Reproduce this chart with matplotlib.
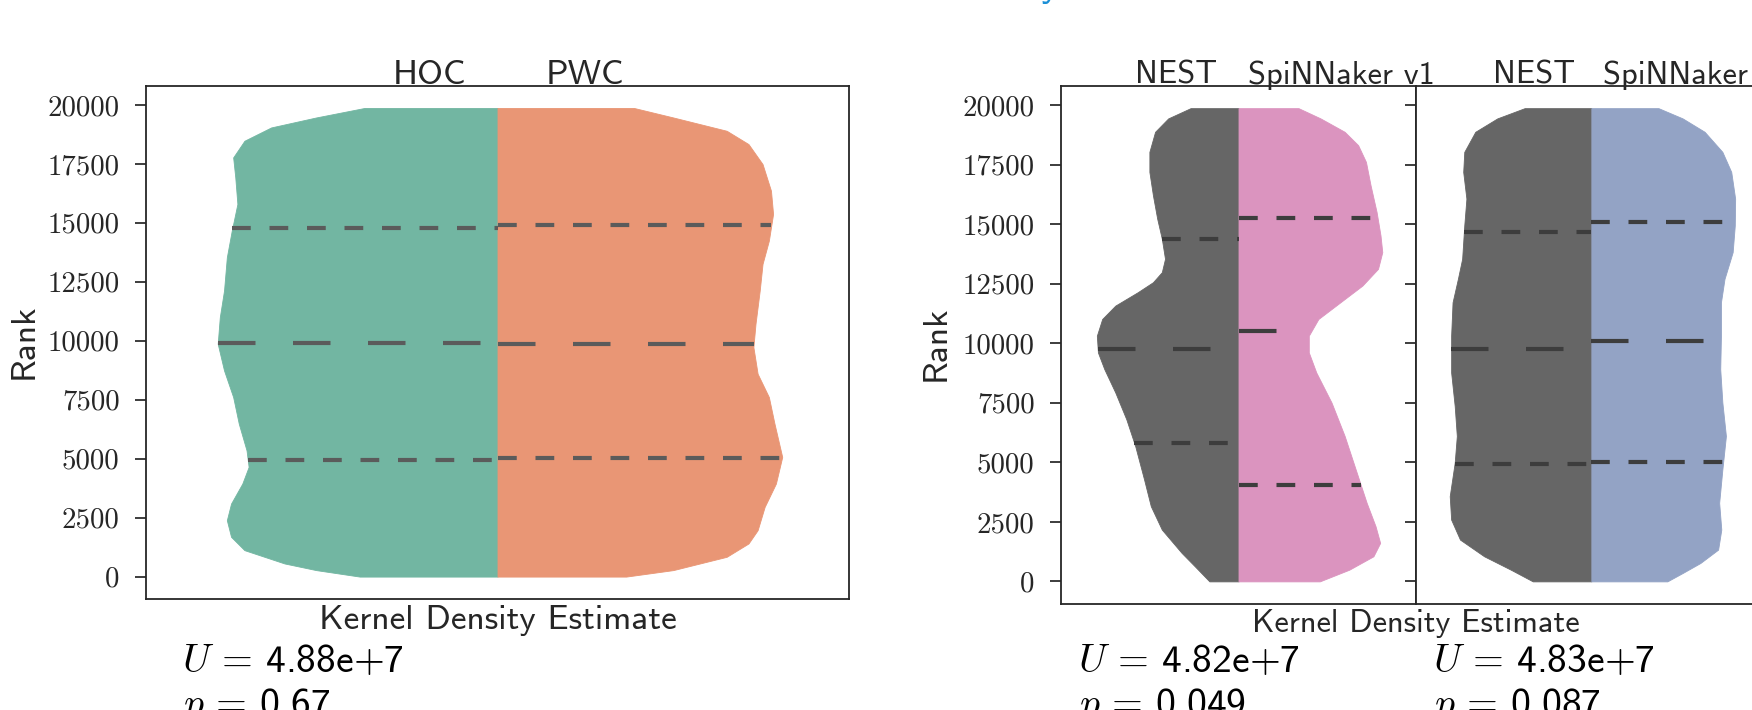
import numpy as np
import matplotlib.pyplot as plt

plt.rcParams['mathtext.fontset'] = 'cm'
plt.rcParams['font.family'] = 'cmss10'
plt.rcParams['axes.unicode_minus'] = False
plt.rcParams['axes.formatter.use_mathtext'] = True

INK = '#262626'
SERIF = 'cmr10'

# --- Violin-Profile (Rang, halbe Breite) ---
hoc_rank = [0, 275, 557, 1121, 1686, 2391, 3097, 3944, 4650, 5355, 6484, 7613, 8742,
            9871, 11000, 12129, 13540, 14669, 15798, 16927, 17773, 18479, 19043,
            19466, 19870]
hoc_width = [0.196, 0.258, 0.303, 0.360, 0.379, 0.385, 0.379, 0.363, 0.354, 0.357,
             0.368, 0.376, 0.389, 0.398, 0.395, 0.389, 0.385, 0.378, 0.370, 0.373,
             0.376, 0.360, 0.322, 0.258, 0.189]

pwc_rank = [0, 275, 839, 1404, 1968, 2956, 3944, 5073, 6484, 7613, 8601, 9730,
            10718, 12129, 13258, 14245, 15374, 16362, 17491, 18338, 18902, 19466, 19870]
pwc_width = [0.183, 0.250, 0.326, 0.357, 0.370, 0.380, 0.396, 0.405, 0.394, 0.386,
             0.370, 0.364, 0.367, 0.373, 0.377, 0.386, 0.392, 0.389, 0.377, 0.357,
             0.326, 0.250, 0.194]

nest1_rank = [0, 632, 1193, 2175, 3158, 4281, 5684, 6807, 7930, 8912, 9614, 10316,
              11017, 11579, 12140, 12561, 12982, 13544, 14386, 15228, 16210, 17193,
              18035, 18877, 19440, 19870]
nest1_width = [0.082, 0.123, 0.160, 0.216, 0.247, 0.266, 0.291, 0.316, 0.347, 0.378,
               0.396, 0.399, 0.384, 0.347, 0.284, 0.241, 0.216, 0.207, 0.216, 0.229,
               0.241, 0.251, 0.251, 0.235, 0.198, 0.135]

spin1_rank = [0, 491, 1053, 1614, 2316, 3298, 4702, 6105, 7509, 8772, 9614, 10316,
              11017, 11719, 12421, 13123, 13824, 14526, 15509, 16632, 17614, 18316,
              18877, 19440, 19870]
spin1_width = [0.229, 0.312, 0.380, 0.399, 0.386, 0.361, 0.330, 0.299, 0.262, 0.219,
               0.198, 0.198, 0.225, 0.287, 0.349, 0.393, 0.405, 0.400, 0.389, 0.372,
               0.359, 0.337, 0.299, 0.231, 0.169]

nest2_rank = [0, 491, 1053, 1754, 2596, 3579, 4982, 6105, 7368, 8772, 10316, 11719,
              12702, 13544, 14947, 16070, 17193, 18035, 18877, 19440, 19870]
nest2_width = [0.165, 0.227, 0.302, 0.370, 0.395, 0.399, 0.385, 0.379, 0.385, 0.395,
               0.395, 0.391, 0.376, 0.364, 0.358, 0.352, 0.361, 0.358, 0.327, 0.265,
               0.188]

spin2_rank = [0, 351, 772, 1333, 2175, 3298, 4702, 6105, 7509, 8912, 10316, 11719,
              12702, 13824, 14947, 16070, 17193, 18035, 18877, 19440, 19870]
spin2_width = [0.214, 0.257, 0.307, 0.357, 0.366, 0.360, 0.369, 0.379, 0.369, 0.363,
               0.365, 0.365, 0.375, 0.398, 0.404, 0.405, 0.394, 0.369, 0.319, 0.257,
               0.189]

# Quartile (25 %, Median, 75 %)
hoc_q = [4931, 9913, 14780]
pwc_q = [5016, 9841, 14890]
nest1_q = [5820, 9745, 14390]
spin1_q = [4063, 10505, 15250]
nest2_q = [4934, 9745, 14665]
spin2_q = [4993, 10110, 15070]

yticks = list(range(0, 20001, 2500))


def px(x0, y0, w, h):
    return [x0 / 1752, 1 - (y0 + h) / 710, w / 1752, h / 710]


def half(ax, ranks, widths, quart, color, side, gray):
    r = np.asarray(ranks, float)
    w = np.asarray(widths, float)
    if side == 'left':
        ax.fill_betweenx(r, -w, 0, color=color, lw=0.6, edgecolor=color)
    else:
        ax.fill_betweenx(r, 0, w, color=color, lw=0.6, edgecolor=color)
    for q, d in zip(quart, [(4.5, 4.5), (9, 9), (4.5, 4.5)]):
        dens = np.interp(q, r, w)
        xs = [-dens, 0] if side == 'left' else [0, dens]
        ax.plot(xs, [q, q], color=gray, lw=3, dashes=d,
                dash_capstyle='butt', solid_capstyle='butt')


def style(ax, labels=True):
    ax.set_ylim(-950, 20800)
    ax.set_xticks([])
    if labels:
        ax.set_yticks(yticks, [str(t) for t in yticks], fontfamily=SERIF)
    else:
        ax.set_yticks(yticks, [''] * len(yticks))
    ax.tick_params(axis='y', direction='out', length=8, width=1.25,
                   color=INK, labelsize=20.8, labelcolor=INK, pad=11)
    for s in ax.spines.values():
        s.set_color(INK)
        s.set_linewidth(1.3)


fig = plt.figure(figsize=(17.52, 7.10), dpi=100)

ax0 = fig.add_axes(px(146, 86, 703, 513))
ax1 = fig.add_axes(px(1061, 86, 355, 518))
ax2 = fig.add_axes(px(1416, 86, 355, 518))

half(ax0, hoc_rank, hoc_width, hoc_q, '#72b6a2', 'left', '#5b5b5b')
half(ax0, pwc_rank, pwc_width, pwc_q, '#e99675', 'right', '#5b5b5b')
half(ax1, nest1_rank, nest1_width, nest1_q, '#666666', 'left', '#3d3d3d')
half(ax1, spin1_rank, spin1_width, spin1_q, '#db94bf', 'right', '#3d3d3d')
half(ax2, nest2_rank, nest2_width, nest2_q, '#666666', 'left', '#3d3d3d')
half(ax2, spin2_rank, spin2_width, spin2_q, '#93a3c5', 'right', '#3d3d3d')

ax0.set_xlim(-0.5, 0.5)
ax1.set_xlim(-0.5, 0.5)
ax2.set_xlim(-0.494, 0.506)
style(ax0)
style(ax1)
style(ax2, labels=False)


def ftext(x, y, s, **kw):
    kw.setdefault('color', INK)
    return fig.text(x / 1752, 1 - y / 710, s, **kw)


# Kopfbeschriftungen
for x, s in [(429, 'HOC'), (585, 'PWC')]:
    ftext(x, 84, s, ha='center', va='baseline', fontsize=25.5)
for x, s in [(1176, 'NEST'), (1341, 'SpiNNaker v1'), (1534, 'NEST'), (1696, 'SpiNNaker v2')]:
    ftext(x, 84, s, ha='center', va='baseline', fontsize=23.3)

ftext(24, 341, 'Rank', ha='center', va='center', rotation=90, fontsize=25.5)
ftext(936, 343, 'Rank', ha='center', va='center', rotation=90, fontsize=25.5)

ftext(498, 629, 'Kernel Density Estimate', ha='center', va='baseline', fontsize=25.5)
ftext(1416, 632, 'Kernel Density Estimate', ha='center', va='baseline', fontsize=23.3)

# Mann-Whitney-Statistiken
stats = [(182, '4.88e+7', '0.67'), (1078, '4.82e+7', '0.049'), (1433, '4.83e+7', '0.087')]
for x, u, p in stats:
    ftext(x, 672, r'$U\,=\,$' + u, ha='left', va='baseline', fontsize=28.5, color='black')
    ftext(x, 716, r'$p\,=\,$' + p, ha='left', va='baseline', fontsize=28.5, color='black')

# angeschnittener Rest einer Überschrift oben
ftext(1050, -4, 'y', ha='center', va='baseline', fontsize=30, color='#1b8fd6',
      fontweight='bold')

fig.savefig('out.png', dpi=100)
